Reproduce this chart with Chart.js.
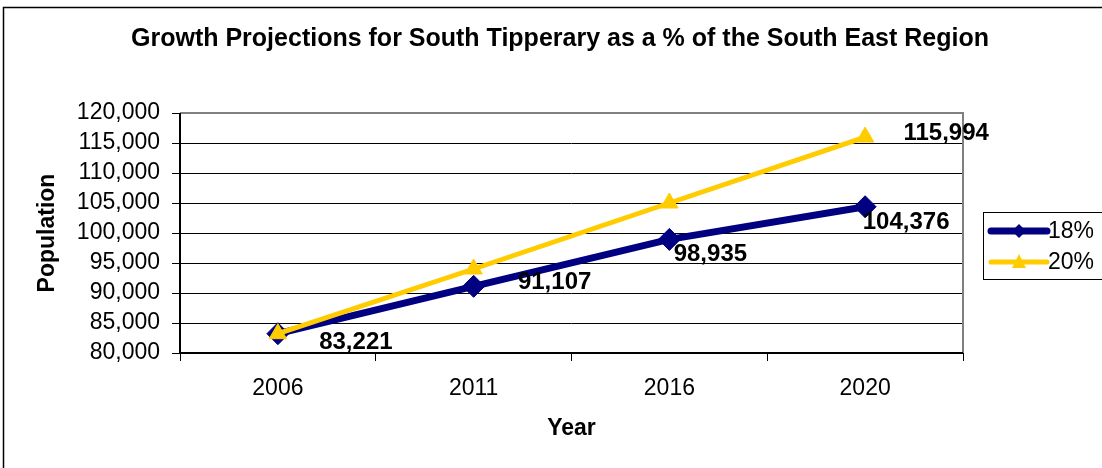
<!DOCTYPE html>
<html>
<head>
<meta charset="utf-8">
<script src="https://cdn.jsdelivr.net/npm/chart.js@4/dist/chart.umd.min.js"></script>
<style>
  html, body { margin: 0; padding: 0; background: #fff; }
  #wrap { width: 1102px; height: 468px; }
</style>
</head>
<body>
<div id="wrap"><canvas id="chart" width="1102" height="468"></canvas></div>
<script>
// data
var years = ['2006', '2011', '2016', '2020'];
var growth18 = [83221, 91107, 98935, 104376];
var growth20 = [83221, 94000, 105000, 115994];
var seriesNames = ['18%', '20%'];
// which points carry a value label (Excel kept only some of them)
var labelled18 = [true, true, true, true];
var labelled20 = [false, false, false, true];

var labelFont = 'bold 24px "Liberation Sans", Arial, sans-serif';
// label nudges, in pixels, as they were dragged in the original
var nudge18 = [[78, 9], [81, -4], [41, 15], [41, 16]];
var nudge20 = [null, null, null, [81, -4]];

var fmt = function(v){ return Number(v).toLocaleString('en-US'); };

var frame = {
  id: 'frame',
  beforeDraw: function(chart){
    var c = chart.ctx;
    c.save();
    c.fillStyle = '#fff';
    c.fillRect(0, 0, chart.width, chart.height);
    c.strokeStyle = '#000';
    c.lineWidth = 1.5;
    c.strokeRect(3.5, 7.5, chart.width + 20, chart.height + 20);
    c.restore();
  },
  beforeDatasetsDraw: function(chart){
    var c = chart.ctx, a = chart.chartArea;
    c.save();
    c.strokeStyle = '#808080';
    c.lineWidth = 2;
    c.beginPath();
    c.moveTo(a.left, a.top); c.lineTo(a.right, a.top); c.lineTo(a.right, a.bottom);
    c.stroke();
    c.strokeStyle = '#000';
    c.beginPath();
    c.moveTo(a.left, a.top); c.lineTo(a.left, a.bottom); c.lineTo(a.right, a.bottom);
    c.stroke();
    c.restore();
  },
  afterDatasetsDraw: function(chart){
    var c = chart.ctx;
    var marks = [[labelled18, nudge18], [labelled20, nudge20]];
    c.save();
    c.font = labelFont;
    c.fillStyle = '#000';
    c.textAlign = 'center';
    c.textBaseline = 'middle';
    marks.forEach(function(m, d){
      var meta = chart.getDatasetMeta(d);
      meta.data.forEach(function(pt, i){
        if (!m[0][i]) return;
        var v = chart.data.datasets[d].data[i];
        c.fillText(fmt(v), pt.x + m[1][i][0], pt.y + m[1][i][1]);
      });
    });

    // legend box on the right, Excel style
    var lx = 983, ly = 212, lw = 130, lh = 67;
    c.fillStyle = '#fff';
    c.fillRect(lx, ly, lw, lh);
    c.strokeStyle = '#000';
    c.lineWidth = 1;
    c.strokeRect(lx + 0.5, ly + 0.5, lw, lh);
    chart.data.datasets.forEach(function(ds, d){
      var y = ly + 19 + d * 31;
      c.strokeStyle = ds.borderColor;
      c.lineWidth = ds.borderWidth;
      c.lineCap = 'round';
      c.beginPath();
      c.moveTo(lx + 8, y); c.lineTo(lx + 64, y);
      c.stroke();
      c.fillStyle = ds.pointBackgroundColor;
      c.beginPath();
      if (ds.pointStyle === 'rectRot') {
        c.moveTo(lx + 36, y - 7); c.lineTo(lx + 43, y); c.lineTo(lx + 36, y + 7); c.lineTo(lx + 29, y);
      } else {
        c.moveTo(lx + 36, y - 8); c.lineTo(lx + 43, y + 6); c.lineTo(lx + 29, y + 6);
      }
      c.closePath();
      c.fill();
      c.fillStyle = '#000';
      c.font = '23px "Liberation Sans", Arial, sans-serif';
      c.textAlign = 'left';
      c.fillText(ds.label, lx + 65, y + 1);
    });
    c.restore();
  }
};

new Chart(document.getElementById('chart'), {
  type: 'line',
  data: {
    labels: years,
    datasets: [
      {
        label: seriesNames[0],
        data: growth18,
        order: 1,
        borderColor: '#000080',
        backgroundColor: '#000080',
        pointBackgroundColor: '#000080',
        pointBorderColor: '#000080',
        borderWidth: 7,
        pointStyle: 'rectRot',
        pointRadius: 11,
        pointBorderWidth: 1,
        tension: 0
      },
      {
        label: seriesNames[1],
        data: growth20,
        order: 0,
        borderColor: '#FFCC00',
        backgroundColor: '#FFCC00',
        pointBackgroundColor: '#FFCC00',
        pointBorderColor: '#FFCC00',
        borderWidth: 5,
        pointStyle: 'triangle',
        pointRadius: 10,
        pointBorderWidth: 1,
        tension: 0
      }
    ]
  },
  options: {
    responsive: false,
    animation: false,
    layout: { padding: { left: 18, right: 0, top: 0, bottom: 0 } },
    plugins: {
      legend: { display: false },
      tooltip: { enabled: false },
      title: {
        display: true,
        text: 'Growth Projections for South Tipperary as a % of the South East Region',
        color: '#000',
        font: { family: '"Liberation Sans", Arial, sans-serif', size: 25, weight: 'bold' },
        padding: { top: 24, bottom: 59 }
      }
    },
    scales: {
      x: {
        offset: true,
        afterFit: function(s){ s.height = 115; },
        grid: { offset: true, drawOnChartArea: false, drawTicks: true, tickLength: 8, color: '#000' },
        border: { display: false },
        ticks: {
          color: '#000',
          padding: 14,
          maxRotation: 0,
          font: { family: '"Liberation Sans", Arial, sans-serif', size: 23 }
        },
        title: {
          display: true,
          text: 'Year',
          color: '#000',
          font: { family: '"Liberation Sans", Arial, sans-serif', size: 23, weight: 'bold' },
          padding: { top: 26, bottom: 26 }
        }
      },
      y: {
        min: 80000,
        max: 120000,
        afterFit: function(s){ s.width = 162; },
        grid: { color: '#000', lineWidth: 1, tickLength: 8 },
        border: { display: false },
        ticks: {
          stepSize: 5000,
          autoSkip: false,
          color: '#000',
          padding: 12,
          font: { family: '"Liberation Sans", Arial, sans-serif', size: 23 },
          callback: function(v){ return fmt(v); }
        },
        title: {
          display: true,
          text: 'Population',
          color: '#000',
          font: { family: '"Liberation Sans", Arial, sans-serif', size: 23, weight: 'bold' },
          padding: { top: 16, bottom: 16 }
        }
      },
      // empty right-hand strip that keeps room for the legend
      yRight: {
        position: 'right',
        display: true,
        afterFit: function(s){ s.width = 139; },
        grid: { drawOnChartArea: false, drawTicks: false },
        border: { display: false },
        ticks: { display: false }
      }
    }
  },
  plugins: [frame]
});
</script>
</body>
</html>
